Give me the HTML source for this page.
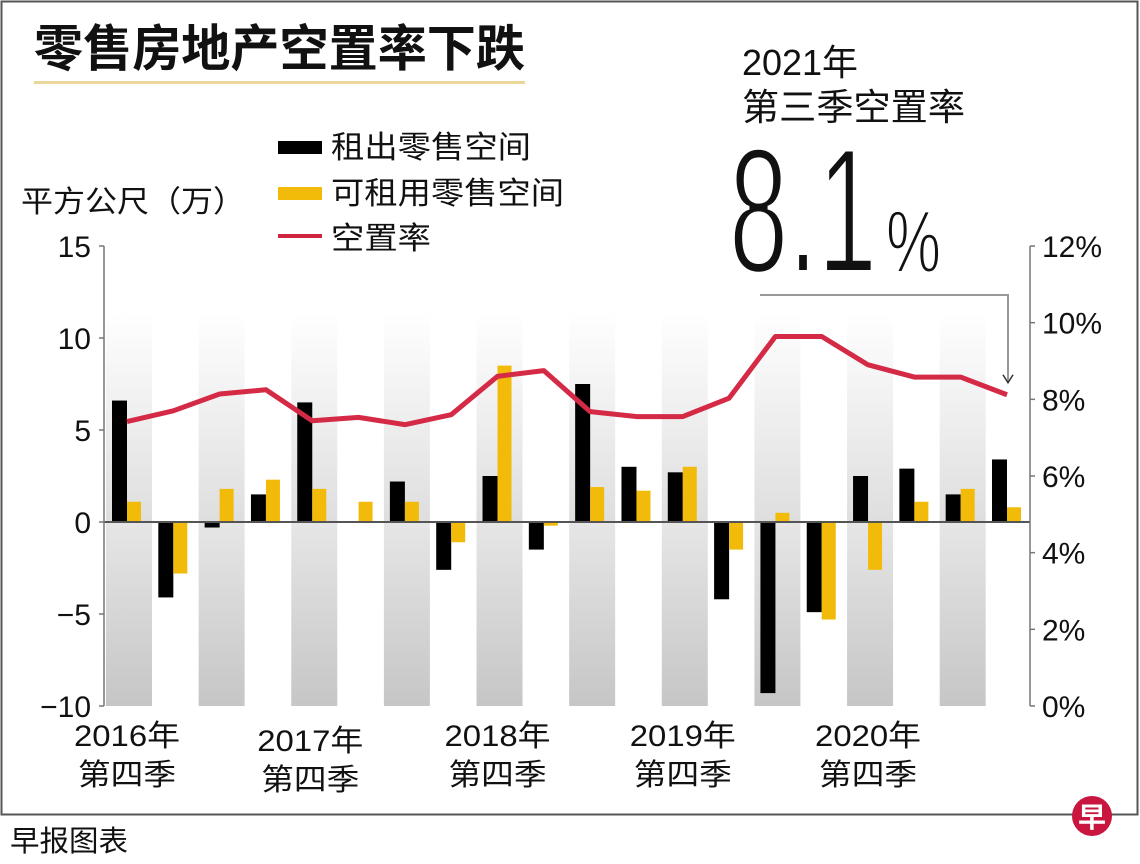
<!DOCTYPE html>
<html><head><meta charset="utf-8"><style>
html,body{margin:0;padding:0;background:#fff}
svg{display:block}
text{font-family:"Liberation Sans","Noto Sans CJK SC",sans-serif;fill:#111}
</style></head><body>
<svg id="chart" width="1140" height="864" viewBox="0 0 1140 864" xmlns="http://www.w3.org/2000/svg">
<defs>
<linearGradient id="gTop" x1="0" y1="0" x2="0" y2="1"><stop offset="0" stop-color="#fff"/><stop offset="1" stop-color="#dedede"/></linearGradient>
<linearGradient id="gBot" x1="0" y1="0" x2="0" y2="1"><stop offset="0" stop-color="#e6e6e6"/><stop offset="1" stop-color="#c6c6c6"/></linearGradient>
</defs>
<rect x="1.5" y="1.5" width="1136" height="813" fill="none" stroke="#555" stroke-width="2"/>
<text x="34" y="66" font-size="50" font-weight="bold" textLength="491" lengthAdjust="spacingAndGlyphs">零售房地产空置率下跌</text>
<rect x="34" y="81" width="491" height="3" fill="#ecd79a"/>
<g>
<rect x="278" y="141" width="44" height="13" fill="#000"/>
<text x="331" y="158" font-size="31" textLength="200" lengthAdjust="spacingAndGlyphs">租出零售空间</text>
<rect x="278" y="187" width="44" height="13" fill="#f2bb0a"/>
<text x="331" y="204" font-size="31" textLength="233" lengthAdjust="spacingAndGlyphs">可租用零售空间</text>
<rect x="278" y="234" width="44" height="4" fill="#d0243f"/>
<text x="331" y="249" font-size="31" textLength="100" lengthAdjust="spacingAndGlyphs">空置率</text>
</g>
<text x="21" y="212" font-size="30" textLength="224" lengthAdjust="spacingAndGlyphs">平方公尺（万）</text>
<text x="742" y="75" font-size="36" textLength="116" lengthAdjust="spacingAndGlyphs">2021年</text>
<text x="742" y="120" font-size="37" textLength="223" lengthAdjust="spacingAndGlyphs">第三季空置率</text>
<text y="272" stroke="#fff" stroke-width="4"><tspan x="729" font-size="178" textLength="148" lengthAdjust="spacingAndGlyphs">8.1</tspan><tspan x="886" font-size="88" textLength="55" lengthAdjust="spacingAndGlyphs" stroke-width="2">%</tspan></text>
<g id="stripes"></g>
<g id="bars"></g>
<g id="axes"></g>
<polyline id="vacancy-line" fill="none" stroke="#d42a45" stroke-width="5" stroke-linejoin="round"/>
<g id="annot"></g>
<g id="xlabels"></g>
<text x="10" y="851" font-size="29" textLength="118" lengthAdjust="spacingAndGlyphs">早报图表</text>
<g>
<circle cx="1092" cy="816" r="20" fill="#c8163e"/>
<text x="1092" y="827" font-size="28" font-weight="bold" text-anchor="middle" style="fill:#fff">早</text>
</g>
</svg>
<script>
const quarters = ["2016Q4","2017Q1","2017Q2","2017Q3","2017Q4","2018Q1","2018Q2","2018Q3","2018Q4","2019Q1","2019Q2","2019Q3","2019Q4","2020Q1","2020Q2","2020Q3","2020Q4","2021Q1","2021Q2","2021Q3"];
const leased = [6.6,-4.1,-0.3,1.5,6.5,0,2.2,-2.6,2.5,-1.5,7.5,3.0,2.7,-4.2,-9.3,-4.9,2.5,2.9,1.5,3.4];
const available = [1.1,-2.8,1.8,2.3,1.8,1.1,1.1,-1.1,8.5,-0.2,1.9,1.7,3.0,-1.5,0.5,-5.3,-2.6,1.1,1.8,0.8];
const vacancy = [7.42,7.7,8.14,8.25,7.44,7.53,7.34,7.6,8.6,8.75,7.68,7.55,7.55,8.03,9.64,9.64,8.9,8.58,8.58,8.12];
const leftTicks = [15,10,5,0,-5,-10];
const leftTickLabels = ["15","10","5","0","−5","−10"];
const rightTicks = [12,10,8,6,4,2,0];
const rightTickLabels = ["12%","10%","8%","6%","4%","2%","0%"];
const xLabelYears = ["2016年","2017年","2018年","2019年","2020年"];
const xLabelQuarter = "第四季";
const xLabelIdx = [0,4,8,12,16];

const NS="http://www.w3.org/2000/svg";
const X0=104, X1=1030, Y0=706, Y1=246;
const yL = v => Y0 - (v+10)/25*(Y0-Y1);
const yR = v => Y0 - v/12*(Y0-Y1);
const xC = i => 127 + i*(1007-127)/(quarters.length-1);
function mk(tag, attrs, parent){const e=document.createElementNS(NS,tag);for(const k in attrs)e.setAttribute(k,attrs[k]);parent.appendChild(e);return e;}

const stripes=document.getElementById('stripes');
for(let i=0;i<quarters.length;i+=2){
  const c=xC(i);
  const a=mk('rect',{x:c-21,y:312,width:46,height:yL(0)-312,fill:'url(#gTop)'},stripes);
  
  
  const b=mk('rect',{x:c-21,y:yL(0),width:46,height:Y0-yL(0),fill:'url(#gBot)'},stripes);
  
  
}
const bars=document.getElementById('bars');
quarters.forEach((q,i)=>{
  const c=xC(i);
  const v=leased[i], w=available[i];
  const r1=mk('rect',{x:c-15,y:Math.min(yL(v),yL(0)),width:15,height:Math.abs(yL(v)-yL(0)),fill:'#000'},bars);
  
  
  const r2=mk('rect',{x:c,y:Math.min(yL(w),yL(0)),width:14,height:Math.abs(yL(w)-yL(0)),fill:'#f2bb0a'},bars);
  
  
});
const axes=document.getElementById('axes');
mk('line',{x1:X0,y1:yL(0),x2:X1,y2:yL(0),stroke:'#555','stroke-width':2},axes);
mk('line',{x1:X0,y1:Y1,x2:X0,y2:Y0,stroke:'#777','stroke-width':1.5},axes);
mk('line',{x1:X1,y1:Y1,x2:X1,y2:Y0,stroke:'#777','stroke-width':1.5},axes);
leftTicks.forEach((v,i)=>{
  mk('line',{x1:X0-5,y1:yL(v),x2:X0,y2:yL(v),stroke:'#777','stroke-width':1.5},axes);
  const t=mk('text',{x:91,y:yL(v)+11,'font-size':30,'text-anchor':'end'},axes);
  t.textContent=leftTickLabels[i];
  
  
});
rightTicks.forEach((v,i)=>{
  mk('line',{x1:X1,y1:yR(v),x2:X1+5,y2:yR(v),stroke:'#777','stroke-width':1.5},axes);
  const t=mk('text',{x:1042,y:yR(v)+11,'font-size':30},axes);
  t.textContent=rightTickLabels[i];
  
  
});
document.getElementById('vacancy-line').setAttribute('points',vacancy.map((v,i)=>xC(i)+','+yR(v)).join(' '));
const an=document.getElementById('annot');
const lx=xC(quarters.length-1)+1, ly=yR(vacancy[vacancy.length-1]);
mk('polyline',{points:`760,295 ${lx},295 ${lx},${ly-12}`,fill:'none',stroke:'#999','stroke-width':2},an);
mk('polyline',{points:`${lx-5},${ly-20} ${lx},${ly-12} ${lx+5},${ly-20}`,fill:'none',stroke:'#333','stroke-width':1.5},an);
const xl=document.getElementById('xlabels');
xLabelIdx.forEach((qi,k)=>{
  const c=xC(qi)+(k===1?-2:0);
  const dy=k===1?5:0;
  const t1=mk('text',{x:c,y:746+dy,'font-size':30,'text-anchor':'middle',textLength:106,lengthAdjust:'spacingAndGlyphs'},xl);
  t1.textContent=xLabelYears[k];
  
  
  const t2=mk('text',{x:c,y:785+dy,'font-size':30,'text-anchor':'middle',textLength:98,lengthAdjust:'spacingAndGlyphs'},xl);
  t2.textContent=xLabelQuarter;
  
  
});
</script>
</body></html>
